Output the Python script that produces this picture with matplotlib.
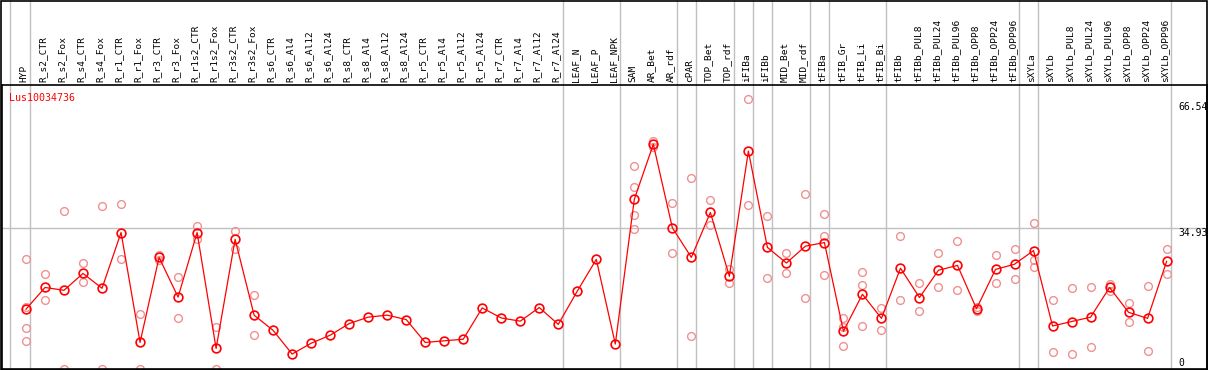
import matplotlib
matplotlib.use("Agg")
import matplotlib.pyplot as plt
from matplotlib.patches import Rectangle
from matplotlib.transforms import blended_transform_factory

# categorias (cabecalho)
samples = ["HYP",
           "R_s2_CTR", "R_s2_Fox", "R_s4_CTR", "R_s4_Fox", "R_r1_CTR", "R_r1_Fox",
           "R_r3_CTR", "R_r3_Fox", "R_r1s2_CTR", "R_r1s2_Fox", "R_r3s2_CTR", "R_r3s2_Fox",
           "R_s6_CTR", "R_s6_Al4", "R_s6_Al12", "R_s6_Al24",
           "R_s8_CTR", "R_s8_Al4", "R_s8_Al12", "R_s8_Al24",
           "R_r5_CTR", "R_r5_Al4", "R_r5_Al12", "R_r5_Al24",
           "R_r7_CTR", "R_r7_Al4", "R_r7_Al12", "R_r7_Al24",
           "LEAF_N", "LEAF_P", "LEAF_NPK",
           "SAM", "AR_Bet", "AR_rdf", "cPAR", "TOP_Bet", "TOP_rdf",
           "iFIBa", "iFIBb", "MID_Bet", "MID_rdf",
           "tFIBa", "tFIB_Gr", "tFIB_Li", "tFIB_Bi", "tFIBb",
           "tFIBb_PUL8", "tFIBb_PUL24", "tFIBb_PUL96",
           "tFIBb_OPP8", "tFIBb_OPP24", "tFIBb_OPP96",
           "sXYLa", "sXYLb",
           "sXYLb_PUL8", "sXYLb_PUL24", "sXYLb_PUL96",
           "sXYLb_OPP8", "sXYLb_OPP24", "sXYLb_OPP96"]

# media por amostra
means = [14.8, 20.2, 19.5, 23.7, 20.0, 33.9, 6.5, 27.7, 17.8, 33.9, 5.0, 32.2, 13.3,
         9.5, 3.6, 6.3, 8.3, 11.2, 12.8, 13.3, 12.2, 6.5, 6.9, 7.3, 15.1,
         12.6, 11.8, 15.2, 11.0,
         19.3, 27.2, 6.1,
         42.2, 55.9, 35.1, 27.7, 38.9, 23.0, 54.2, 30.2, 26.3, 30.5,
         31.4, 9.3, 18.5, 12.5, 25.0,
         17.7, 24.5, 25.7, 14.9, 24.7, 26.0,
         29.4, 10.6,
         11.7, 12.8, 20.2, 14.0, 12.5, 26.7]

# replicas
replicates = [[27.2, 15.3, 10.0, 6.8],
              [23.5, 17.0], [39.2, 0.0], [26.3, 21.5], [40.4, 0.0],
              [40.9, 27.2], [13.5, 0.0], [28.4, 27.0], [22.9, 12.5],
              [35.5, 32.4], [10.3, 0.0], [34.4, 29.9], [18.2, 8.3],
              [], [], [], [], [], [], [], [], [], [], [], [], [], [], [], [],
              [], [], [],
              [50.6, 45.3, 38.2, 34.9], [56.7, 55.1], [41.2, 28.7], [47.6, 8.1],
              [41.9, 35.8], [24.7, 21.2], [67.3, 40.7], [38.0, 22.5],
              [28.9, 23.7], [43.5, 17.5],
              [38.4, 33.0, 23.2], [12.5, 10.4, 5.5], [24.0, 20.7, 10.6],
              [15.2, 9.7], [33.0, 17.0],
              [21.2, 14.3], [28.8, 20.2], [31.9, 19.5],
              [15.4, 14.3], [28.2, 21.2], [29.9, 22.2],
              [36.2, 27.0, 25.2], [17.0, 4.0],
              [20.0, 3.5], [20.2, 5.3], [21.1, 19.3],
              [16.3, 11.7], [20.5, 4.3], [29.9, 23.5]]

gene = "Lus10034736"
ref_ticks = [66.54, 34.93, 0]
group_ends = [-1.07, 0, 28, 31, 34, 35, 37, 38, 39, 41, 42, 45, 52, 53, 60]

W, H = 1209, 370
fig = plt.figure(figsize=(W / 100, H / 100), dpi=100)
top_px, bot_px, left_px, right_px = 85, 368.5, 1.5, 1207
ax = fig.add_axes([left_px / W, (H - bot_px) / H,
                   (right_px - left_px) / W, (bot_px - top_px) / H])

step = 19.01
x0 = 26
ax.set_xlim((left_px - x0) / step, (right_px - x0) / step)
ymax = (bot_px - top_px) / 4.011
ax.set_ylim(0, ymax)
ax.set_xticks([])
ax.set_yticks([])
for s in ax.spines.values():
    s.set_linewidth(1.2)
    s.set_color("black")

mono = "DejaVu Sans Mono"

# linhas verticais dos grupos (atravessam o cabecalho)
top_frac = bot_px / (bot_px - top_px)
for k in group_ends:
    ax.axvline(k + 0.226, ymin=0, ymax=top_frac, color="#c0c0c0", lw=1.0,
               clip_on=False, zorder=1)
ax.axhline(ref_ticks[1], color="#c0c0c0", lw=1.0, zorder=1)

# replicas
for i, vals in enumerate(replicates):
    if vals:
        ax.plot([i] * len(vals), vals, linestyle="none", marker="o", ms=5.6,
                mfc="none", mec="#f09090", mew=1.0, zorder=2)

xs = list(range(len(samples)))
ax.plot(xs, means, color="red", lw=0.9, marker="o", ms=6.3, mfc="none",
        mec="red", mew=1.2, zorder=3)

# cabecalho
trans = blended_transform_factory(ax.transData, ax.transAxes)
for i, name in enumerate(samples):
    ax.text(i - 0.1, 1 + 3 / (bot_px - top_px), name, rotation=90, ha="center",
            va="bottom", fontsize=6.8, family=mono, transform=trans, clip_on=False)

ax.text(0.0065, (bot_px - 97.5) / (bot_px - top_px), gene, color="red",
        fontsize=7.2, family=mono, transform=ax.transAxes, va="center", ha="left")

rtrans = blended_transform_factory(ax.transAxes, ax.transData)
lab_x = (1178 - left_px) / (right_px - left_px)
for v in ref_ticks:
    ax.text(lab_x, v, f"{v:g}" if v == 0 else f"{v:.2f}", ha="left",
            va="bottom" if v == 0 else "top", fontsize=7, family=mono,
            transform=rtrans)

# moldura externa
fig.patches.append(Rectangle((1 / W, 0), (right_px - 1) / W, 1 - 0.5 / H,
                             transform=fig.transFigure, fill=False,
                             edgecolor="black", lw=1.2))

fig.savefig("out.png", dpi=100)
